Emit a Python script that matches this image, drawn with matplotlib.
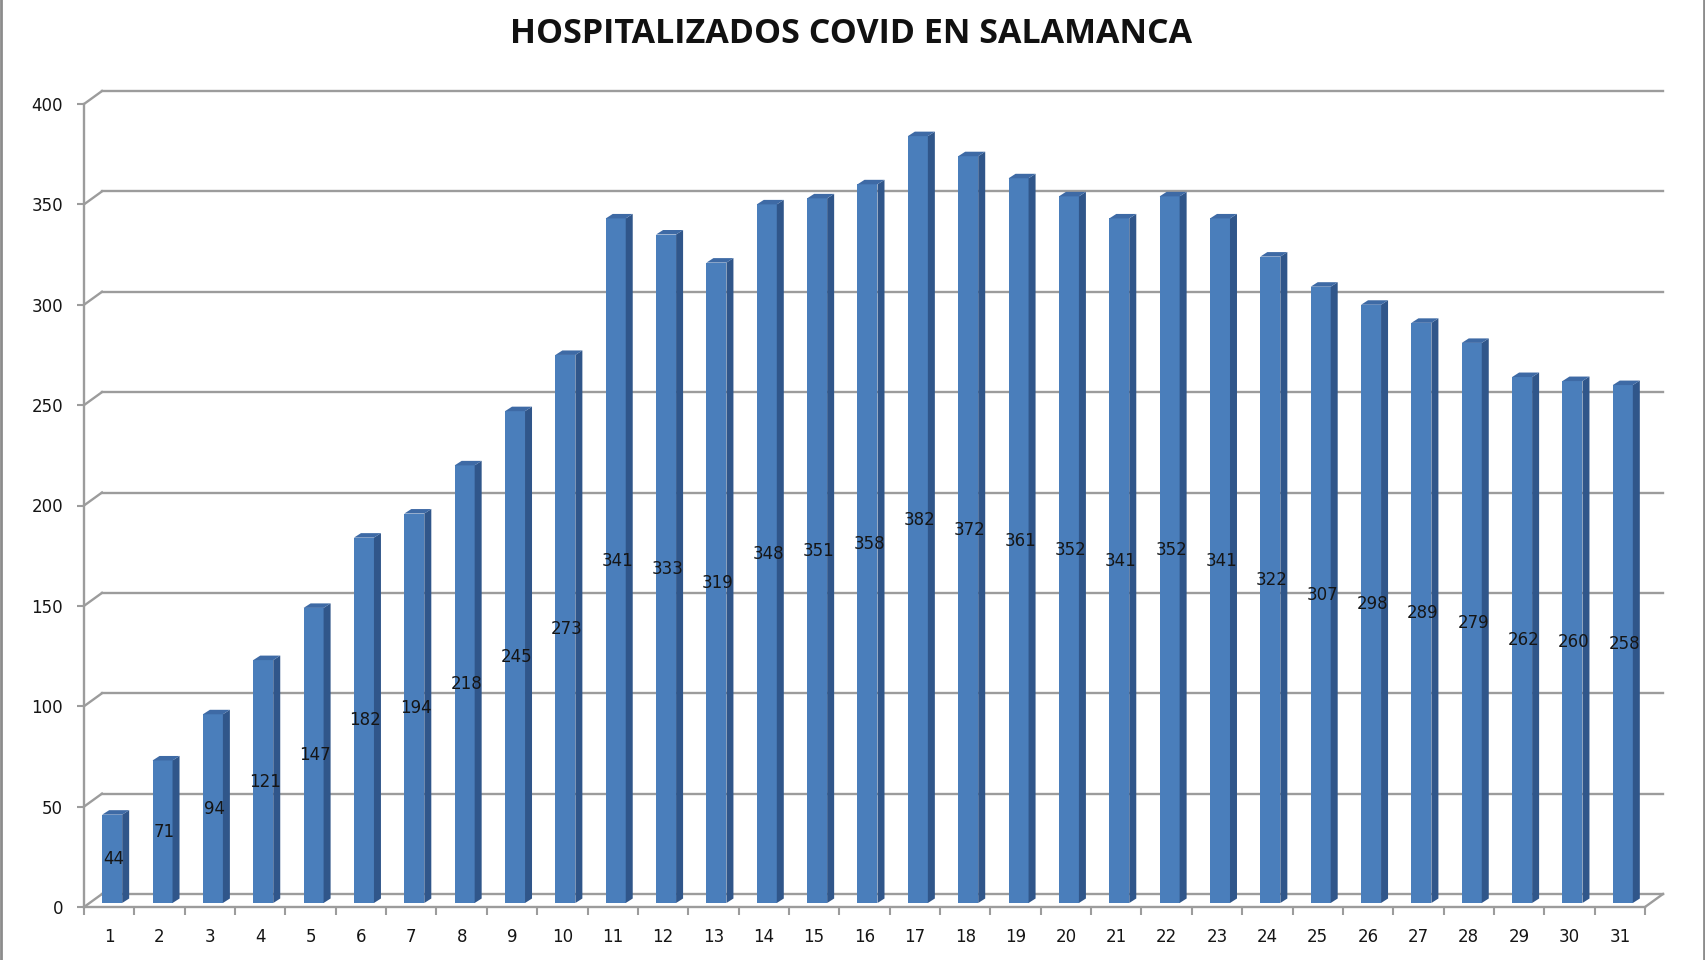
import matplotlib
matplotlib.use("Agg")
import matplotlib.pyplot as plt
from matplotlib.patches import Polygon, Rectangle
from matplotlib.lines import Line2D

# data
days = list(range(1, 32))
hospitalizados = [44, 71, 94, 121, 147, 182, 194, 218, 245, 273,
                  341, 333, 319, 348, 351, 358, 382, 372, 361, 352,
                  341, 352, 341, 322, 307, 298, 289, 279, 262, 260, 258]
y_ticks = [0, 50, 100, 150, 200, 250, 300, 350, 400]
title = "HOSPITALIZADOS COVID EN SALAMANCA"

W, H, DPI = 1706, 960, 100
AX_LEFT, AX_RIGHT, AX_TOP, AX_BOTTOM = 84, 1645, 104, 907

fig = plt.figure(figsize=(W / DPI, H / DPI), dpi=DPI)
ax = fig.add_axes([AX_LEFT / W, (H - AX_BOTTOM) / H,
                   (AX_RIGHT - AX_LEFT) / W, (AX_BOTTOM - AX_TOP) / H])
ax.set_xlim(0.5, len(days) + 0.5)
ax.set_ylim(0, 400)

# pixel -> data unit helpers for the fake 3d look
px_x = (AX_RIGHT - AX_LEFT) / len(days)
px_y = (AX_BOTTOM - AX_TOP) / 400
wall_dx, wall_dy = 18 / px_x, 13 / px_y
bar_ox, bar_oy = 3 / px_x, 4 / px_y
bar_dx, bar_dy = 7 / px_x, 4.5 / px_y
bar_w = 20 / px_x

grid_col = "#9c9c9c"
x0, x1 = 0.5, len(days) + 0.5

# back wall gridlines + left wall diagonals
for t in y_ticks:
    ax.plot([x0 + wall_dx, x1 + wall_dx], [t + wall_dy, t + wall_dy],
            color=grid_col, lw=1.7, zorder=1, clip_on=False)
    ax.plot([x0, x0 + wall_dx], [t, t + wall_dy],
            color=grid_col, lw=1.7, zorder=1, clip_on=False)
# floor right edge
ax.plot([x1, x1 + wall_dx], [0, wall_dy], color=grid_col, lw=1.7,
        zorder=1, clip_on=False)

front_col = "#4a7ebb"
side_col = "#30568a"
top_col = "#3e6aa5"

for d, v in zip(days, hospitalizados):
    left = d - bar_w / 2 + bar_ox
    right = left + bar_w
    top = v + bar_oy
    ax.add_patch(Rectangle((left, bar_oy), bar_w, v, facecolor=front_col,
                           edgecolor="none", zorder=3))
    ax.add_patch(Polygon([(right, bar_oy), (right, top),
                          (right + bar_dx, top + bar_dy),
                          (right + bar_dx, bar_oy + bar_dy)],
                         facecolor=side_col, edgecolor="none", zorder=3))
    ax.add_patch(Polygon([(left, top), (right, top),
                          (right + bar_dx, top + bar_dy),
                          (left + bar_dx, top + bar_dy)],
                         facecolor=top_col, edgecolor="none", zorder=3))
    ax.text(d + bar_ox + 0.03, v / 2 + bar_oy, str(v), ha="center", va="center",
            fontsize=12, color="#151515", zorder=4)

for side in ["top", "right"]:
    ax.spines[side].set_visible(False)
for side in ["left", "bottom"]:
    ax.spines[side].set_color(grid_col)
    ax.spines[side].set_linewidth(1.7)
    ax.spines[side].set_zorder(2)

ax.set_yticks(y_ticks)
ax.tick_params(axis="y", length=5, width=1.5, color=grid_col, pad=10,
               labelsize=12, labelcolor="#151515")
ax.set_xticks(days)
ax.set_xticklabels([str(d) for d in days])
ax.set_xticks([d + 0.5 for d in [0] + days], minor=True)
ax.tick_params(axis="x", which="major", length=0, pad=15,
               labelsize=12, labelcolor="#151515")
ax.tick_params(axis="x", which="minor", length=6, width=1.5, color=grid_col)

fig.text(851 / W, 1 - 34 / H, title, ha="center", va="center",
         fontsize=24.5, fontweight="bold", family=["Open Sans", "DejaVu Sans"],
         color="#111111")

# frame of the exported chart image
fig.add_artist(Line2D([1.5 / W, 1.5 / W], [0, 1], color="#8c8c8c", lw=2,
                      transform=fig.transFigure))
fig.add_artist(Line2D([1 - 2 / W, 1 - 2 / W], [0, 1], color="#8c8c8c", lw=2,
                      transform=fig.transFigure))

fig.savefig("out.png", dpi=DPI)
